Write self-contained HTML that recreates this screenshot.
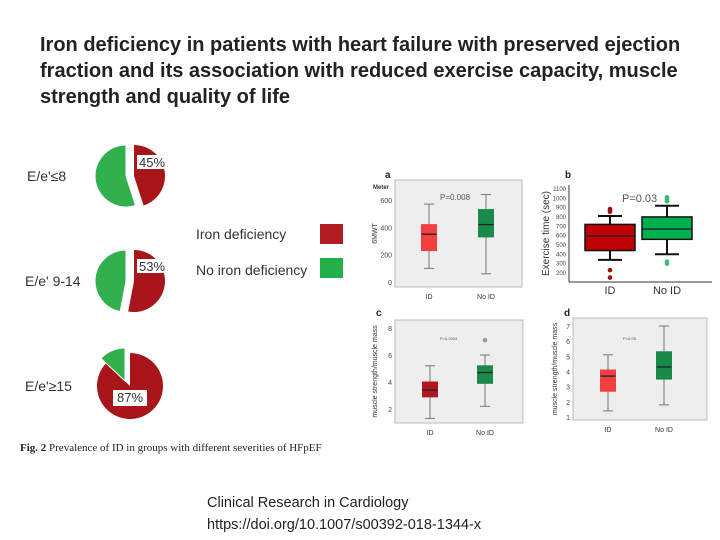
<!DOCTYPE html>
<html><head><meta charset="utf-8"><style>
body{margin:0;background:#fff;width:720px;height:540px;overflow:hidden;font-family:"Liberation Sans",sans-serif}
svg{position:absolute;left:0;top:0}
</style></head><body>
<svg id="s" width="720" height="540" xmlns="http://www.w3.org/2000/svg">
<g font-weight="bold" font-size="20" fill="#222">
<text x="40" y="51">Iron deficiency in patients with heart failure with preserved ejection</text>
<text x="40" y="77">fraction and its association with reduced exercise capacity, muscle</text>
<text x="40" y="103">strength and quality of life</text>
</g>
<g font-size="14" fill="#333">
<text x="196" y="239">Iron deficiency</text><rect x="320" y="224" width="23" height="20" fill="#b01c22"/>
<text x="196" y="275">No iron deficiency</text><rect x="320" y="258" width="23" height="20" fill="#22b04a"/>
</g>
<text x="20" y="451" font-family="Liberation Serif,serif" font-size="11" fill="#222"><tspan font-weight="bold">Fig. 2</tspan>  Prevalence of ID in groups with different severities of HFpEF</text>
<g font-size="14.5" fill="#222">
<text x="207" y="507">Clinical Research in Cardiology</text>
<text x="207" y="529">https://doi.org/10.1007/s00392-018-1344-x</text>
</g>
<g id="pies"></g><g id="boxes"></g>
</svg>
<script>
const pieGroups=["E/e'≤8","E/e' 9-14","E/e'≥15"];
const pieIdPct=[45,53,87];
const boxPanels=["a","b","c","d"];
const boxCats=["ID","No ID"];
// [low whisker, q1, median, q3, high whisker]
const statsA=[[100,230,350,420,570],[60,330,420,530,640]];
const statsB=[[330,430,585,710,800],[390,550,660,790,910]];
const statsC=[[1.3,2.9,3.4,4.0,5.2],[2.2,3.9,4.7,5.2,6.0]];
const statsD=[[1.4,2.7,3.7,4.1,5.1],[1.8,3.5,4.3,5.3,7.0]];
const outliersB=[[860,875,845,220,140],[1000,980,960,310,290]];
const outliersC=[[],[7.1]];
const ticksA=[0,200,400,600];
const ticksB=[200,300,400,500,600,700,800,900,1000,1100];
const ticksC=[2,4,6,8];
const ticksD=[1,2,3,4,5,6,7];
const NS="http://www.w3.org/2000/svg";
function mk(p,t,a){const e=document.createElementNS(NS,t);for(const k in a)e.setAttribute(k,a[k]);p.appendChild(e);return e;}
const pies=document.getElementById('pies');
const pieCy=[176,281,386];
pieGroups.forEach((lab,i)=>{
 const g=mk(pies,'g',{});
 
 
 const cx=130,cy=pieCy[i],r=i==2?33:31;
 const a=pieIdPct[i]/100*2*Math.PI;
 const pt=(ang,rr,ox,oy)=>[ox+rr*Math.sin(ang),oy-rr*Math.cos(ang)];
 // red slice exploded right, green left
 let ex=i==2?0:4, gx=i==2?-5:-4, gy=i==2?-5:0;
 let p1=pt(0,r,cx+ex,cy),p2=pt(a,r,cx+ex,cy);
 const red=mk(g,'path',{d:`M${cx+ex},${cy}L${p1[0]},${p1[1]}A${r},${r} 0 ${a>Math.PI?1:0} 1 ${p2[0]},${p2[1]}Z`,fill:'#a8151b'});
 
 let q1=pt(a,r,cx+gx,cy+gy),q2=pt(2*Math.PI,r,cx+gx,cy+gy);
 const gr=mk(g,'path',{d:`M${cx+gx},${cy+gy}L${q1[0]},${q1[1]}A${r},${r} 0 ${2*Math.PI-a>Math.PI?1:0} 1 ${q2[0]},${q2[1]}Z`,fill:'#33b04e',stroke:'#fff','stroke-width':1});
 
 const bx=i==2?113:137,by=i==2?390:155;
 mk(g,'rect',{x:bx,y:i==1?by+104:by,width:i==2?34:28,height:i==2?16:14,fill:'#fff'});
 const t=mk(g,'text',{x:bx+(i==2?4:2),y:(i==1?by+104:by)+12,'font-size':13,fill:'#333'});t.textContent=pieIdPct[i]+'%';
 
 const l=mk(g,'text',{x:i==0?27:25,y:cy+5,'font-size':14,fill:'#333'});l.textContent=lab;
 
});
const boxes=document.getElementById('boxes');
const cfg=[
 {st:statsA,tk:ticksA,out:[[],[]],x0:395,x1:522,yt:180,yb:287,v0:0,p0:282,v1:600,p1:200,bg:'#eeeeee',cx:[429,486],w:15,col:['#f04040','#1a8a4a'],lx:385,ly:178,p:'P=0.008',px:440,py:200,yl:'6MWT',yx:377},
 {st:statsB,tk:ticksB,out:outliersB,x0:569,x1:712,yt:185,yb:282,v0:200,p0:272,v1:1100,p1:188,bg:'none',cx:[610,667],w:50,col:['#c00000','#00b050'],lx:565,ly:178,p:'P=0.03',px:622,py:202,yl:'Exercise time (sec)',yx:549},
 {st:statsC,tk:ticksC,out:outliersC,x0:395,x1:523,yt:320,yb:423,v0:2,p0:409,v1:8,p1:328,bg:'#eeeeee',cx:[430,485],w:15,col:['#b01820','#1a8a4a'],lx:376,ly:316,p:'P=0.0004',px:440,py:340,yl:'muscle strength/muscle mass',yx:377},
 {st:statsD,tk:ticksD,out:[[],[]],x0:573,x1:707,yt:318,yb:420,v0:1,p0:417,v1:7,p1:326,bg:'#eeeeee',cx:[608,664],w:15,col:['#f04040','#1a8a4a'],lx:564,ly:316,p:'P=0.05',px:623,py:340,yl:'muscle strength/muscle mass',yx:557}
];
cfg.forEach((c,pi)=>{
 const g=mk(boxes,'g',{});
 
 
 const y=v=>c.p0+(v-c.v0)*(c.p1-c.p0)/(c.v1-c.v0);
 if(c.bg!='none')mk(g,'rect',{x:c.x0,y:c.yt,width:c.x1-c.x0,height:c.yb-c.yt,fill:c.bg,stroke:'#bbb'});
 else{mk(g,'line',{x1:c.x0,y1:c.yt,x2:c.x0,y2:c.yb,stroke:'#333'});mk(g,'line',{x1:c.x0,y1:c.yb,x2:c.x1,y2:c.yb,stroke:'#333'});}
 const pl=mk(g,'text',{x:c.lx,y:c.ly,'font-size':10,'font-weight':'bold',fill:'#222'});pl.textContent=boxPanels[pi];
 c.tk.forEach(v=>{const t=mk(g,'text',{x:c.x0-3,y:y(v)+3,'font-size':pi==1?6:7,'text-anchor':'end',fill:'#444'});t.textContent=v;
  });
 const yl=mk(g,'text',{transform:`translate(${c.yx},${(c.yt+c.yb)/2}) rotate(-90)`,'font-size':pi==1?10:7,'text-anchor':'middle',fill:'#333'});yl.textContent=c.yl;
 
 if(pi==0){const m=mk(g,'text',{x:373,y:189,'font-size':6,'font-weight':'bold',fill:'#333'});m.textContent='Meter';}
 const pt=mk(g,'text',{x:c.px,y:c.py,'font-size':pi==1?11:pi==0?8:4,fill:'#555'});pt.textContent=c.p;
 
 c.st.forEach((s,k)=>{
  const x=c.cx[k],hw=c.w/2,sw=pi==1?2:1,sc=pi==1?'#111':'#777';
  const bg2=mk(g,'g',{});
  
  
  mk(bg2,'line',{x1:x,y1:y(s[0]),x2:x,y2:y(s[4]),stroke:sc,'stroke-width':sw});
  const cw=pi==1?12:5;
  mk(bg2,'line',{x1:x-cw,y1:y(s[0]),x2:x+cw,y2:y(s[0]),stroke:sc,'stroke-width':sw});
  mk(bg2,'line',{x1:x-cw,y1:y(s[4]),x2:x+cw,y2:y(s[4]),stroke:sc,'stroke-width':sw});
  mk(bg2,'rect',{x:x-hw,y:y(s[3]),width:c.w,height:y(s[1])-y(s[3]),fill:c.col[k],stroke:pi==1?'#111':c.col[k],'stroke-width':pi==1?1.5:1});
  mk(bg2,'line',{x1:x-hw,y1:y(s[2]),x2:x+hw,y2:y(s[2]),stroke:'#222','stroke-width':1.3});
  c.out[k].forEach(o=>{const d=mk(bg2,'circle',{cx:x,cy:y(o),r:2.3,fill:pi==1?(k?'#3cb878':'#a01010'):'#999'});
   });
  const xl=mk(g,'text',{x:x,y:pi==1?294:c.yb+12,'font-size':pi==1?11:7,'text-anchor':'middle',fill:'#333'});xl.textContent=boxCats[k];
  
 });
});
</script>
</body></html>
